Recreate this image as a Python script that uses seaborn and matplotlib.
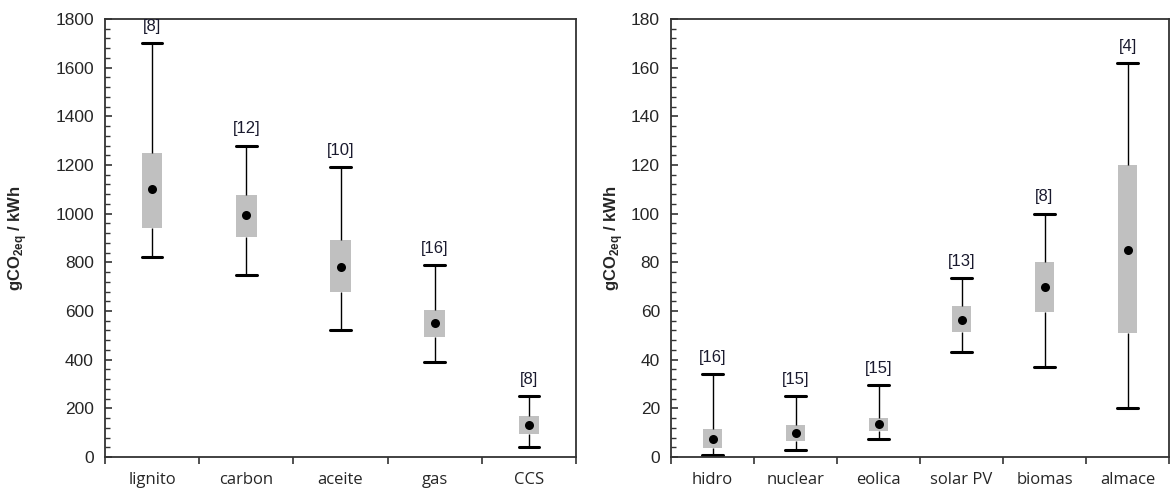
import numpy as np
import pandas as pd
import matplotlib
matplotlib.use("Agg")
import matplotlib.pyplot as plt
from matplotlib.ticker import MultipleLocator
import seaborn as sns

# fossil sources (left panel)
left_cats = ['lignito', 'carbon', 'aceite', 'gas', 'CCS']
left_low = [820, 750, 520, 390, 40]
left_q1 = [940, 905, 680, 495, 95]
left_med = [1100, 995, 780, 550, 130]
left_q3 = [1250, 1075, 890, 605, 170]
left_high = [1700, 1280, 1190, 790, 250]
left_n = [8, 12, 10, 16, 8]

# low-carbon sources (right panel)
right_cats = ['hidro', 'nuclear', 'eolica', 'solar PV', 'biomas', 'almace']
right_low = [1, 3, 7.5, 43, 37, 20]
right_q1 = [3.5, 6.5, 10.5, 51.5, 59.5, 51]
right_med = [7.5, 10, 13.5, 56.5, 70, 85]
right_q3 = [11.5, 13, 16, 62, 80, 120]
right_high = [34, 25, 29.5, 73.5, 100, 162]
right_n = [16, 15, 15, 13, 8, 4]

BOX_GRAY = '#c0c0c0'


def to_long(cats, low, q1, med, q3, high):
    # five points per category -> quartiles/whiskers come out exactly
    rows = []
    for i, c in enumerate(cats):
        for v in (low[i], q1[i], med[i], q3[i], high[i]):
            rows.append({'cat': c, 'val': v})
    return pd.DataFrame(rows)


def draw_panel(ax, cats, low, q1, med, q3, high, counts, ymax, major, minor, cap_half, label_x):
    df = to_long(cats, low, q1, med, q3, high)
    sns.boxplot(data=df, x='cat', y='val', order=cats, ax=ax,
                whis=(0, 100), width=0.22, color=BOX_GRAY, saturation=1,
                showfliers=False, linecolor='black',
                boxprops=dict(facecolor=BOX_GRAY, edgecolor='none', linewidth=0),
                whiskerprops=dict(color='black', linewidth=1.0),
                capprops=dict(color='black', linewidth=2.2),
                medianprops=dict(visible=False))
    # widen caps to about the box width
    for ln in ax.lines:
        x = np.asarray(ln.get_xdata(), dtype=float)
        y = np.asarray(ln.get_ydata(), dtype=float)
        if len(x) == 2 and y[0] == y[1] and x[0] != x[1]:
            c = x.mean()
            ln.set_xdata([c - cap_half, c + cap_half])

    sns.stripplot(x=cats, y=med, order=cats, ax=ax, jitter=False,
                  color='black', size=6.5, zorder=5)

    for i, (h, n) in enumerate(zip(high, counts)):
        ax.annotate(f'[{n}]', xy=(i, h), xytext=(0, 12), textcoords='offset points',
                    ha='center', va='center', fontsize=12, color='#1a1a2e')

    k = len(cats)
    ax.set_xlim(-0.5, k - 0.5)
    ax.set_ylim(0, ymax)
    ax.set_xticks(np.arange(-0.5, k, 1.0))
    ax.set_xticklabels([])
    ax.set_xticks(np.arange(k), minor=True)
    ax.set_xticklabels(cats, minor=True, fontsize=12, family='Open Sans')
    ax.tick_params(axis='x', which='major', direction='out', length=5, width=1.2, color='#333333')
    ax.tick_params(axis='x', which='minor', length=0, pad=11)

    ax.yaxis.set_major_locator(MultipleLocator(major))
    ax.yaxis.set_minor_locator(MultipleLocator(minor))
    ax.tick_params(axis='y', which='major', direction='in', length=5, width=1.2,
                   labelsize=12.5, pad=8, color='#333333')
    ax.tick_params(axis='y', which='minor', direction='in', length=3.5, width=1.0, color='#333333')

    ax.set_xlabel('')
    ax.set_ylabel(r'gCO$_{\mathbf{2eq}}$ / kWh', fontsize=12, fontweight='bold')
    ax.yaxis.set_label_coords(label_x, 0.5)

    for s in ax.spines.values():
        s.set_visible(True)
        s.set_color('#333333')
        s.set_linewidth(1.3)


sns.set_theme(style='ticks')
plt.rcParams['font.family'] = ['Liberation Sans', 'DejaVu Sans']
plt.rcParams['mathtext.fontset'] = 'custom'
plt.rcParams['mathtext.bf'] = 'Liberation Sans:bold'
plt.rcParams['mathtext.rm'] = 'Liberation Sans'

fig = plt.figure(figsize=(11.71, 4.92), dpi=100)
ax1 = fig.add_axes([105 / 1171, 35 / 492, 471 / 1171, 438 / 492])
ax2 = fig.add_axes([671 / 1171, 35 / 492, 498 / 1171, 438 / 492])

draw_panel(ax1, left_cats, left_low, left_q1, left_med, left_q3, left_high, left_n,
           1800, 200, 40, 0.11, -0.161)
draw_panel(ax2, right_cats, right_low, right_q1, right_med, right_q3, right_high, right_n,
           180, 20, 4, 0.125, -0.092)

fig.savefig('out.png', dpi=100)
plt.close(fig)
